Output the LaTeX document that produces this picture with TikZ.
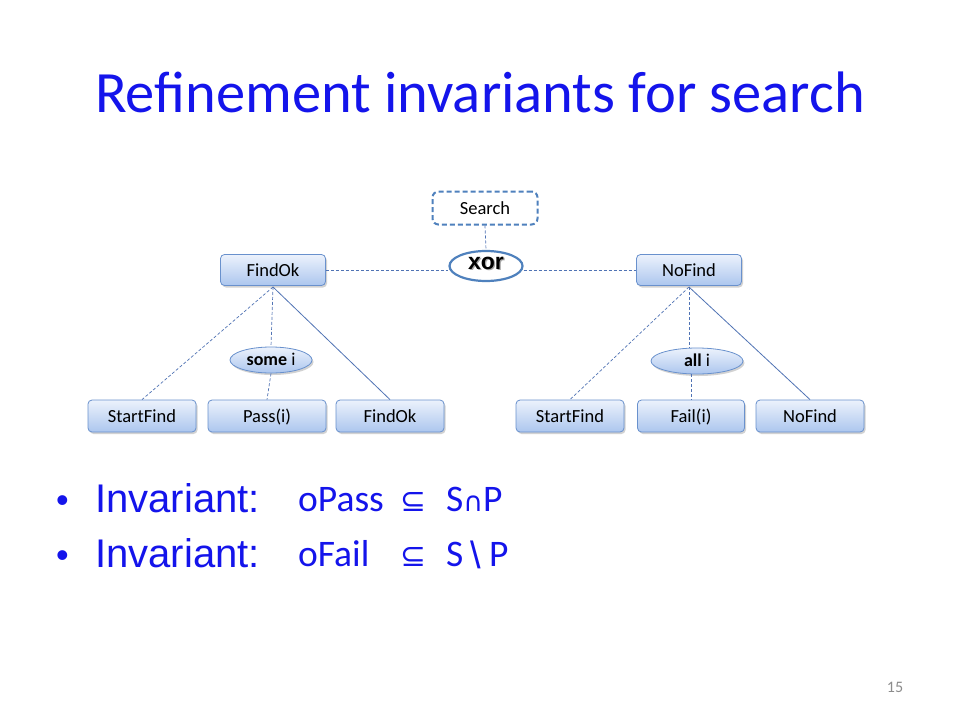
\documentclass[tikz,border=0pt]{standalone}
\usepackage{fontspec}
\setmainfont{Carlito}
\newfontfamily\arialf{Liberation Sans}
\newfontfamily\dejavu{DejaVu Sans}
\usetikzlibrary{shapes.geometric,shadows}
\definecolor{titleblue}{RGB}{20,20,235}
\definecolor{boxborder}{RGB}{105,145,205}
\definecolor{boxtop}{RGB}{236,242,252}
\definecolor{boxbot}{RGB}{172,198,238}
\definecolor{linec}{RGB}{80,115,180}
\definecolor{xorc}{RGB}{79,129,189}
\definecolor{pagegray}{RGB}{140,140,140}
\tikzset{
  box/.style={draw=boxborder, line width=0.8pt, rounded corners=4pt, minimum width=108pt, minimum height=32pt,
    top color=boxtop, bottom color=boxbot, font=\fontsize{18.5}{20}\selectfont, inner sep=0pt,
    text height=14pt, text depth=2pt,
    drop shadow={shadow xshift=1.5pt, shadow yshift=-2pt, opacity=0.35}},
  oval/.style={ellipse, draw=boxborder, line width=0.8pt, minimum width=82pt, minimum height=26pt,
    top color=boxtop, bottom color=boxbot, inner sep=0pt, font=\fontsize{18}{20}\selectfont,
    text height=13.5pt, text depth=2pt,
    drop shadow={shadow xshift=1.5pt, shadow yshift=-2pt, opacity=0.35}},
  dline/.style={draw=linec, line width=0.7pt, dash pattern=on 3pt off 2pt},
  sline/.style={draw=linec, line width=0.8pt},
  bl/.style={anchor=base west, text=titleblue, inner sep=0pt},
}
\begin{document}
\begin{tikzpicture}[x=1pt,y=-1pt]
\useasboundingbox (0,0) rectangle (960,720);
\fill[white] (0,0) rectangle (960,720);
% title
\node[font=\fontsize{58.5}{64}\selectfont, text=titleblue] (title) at (480,92) {Refinement invariants for search};
% top
\node[draw=xorc, line width=2pt, dash pattern=on 5pt off 3pt, rounded corners=6pt, fill=white,
  minimum width=105pt, minimum height=33pt, font=\fontsize{18.5}{20}\selectfont, inner sep=0pt,
  text height=14pt, text depth=2pt] (search) at (485,208) {Search};
\node[box, minimum width=105pt, minimum height=31pt] (findok) at (273,270) {FindOk};
\node[box, minimum width=105pt, minimum height=31pt] (nofind) at (689,270) {NoFind};
\node[ellipse, draw=xorc, line width=2.2pt, fill=white, minimum width=73pt, minimum height=30pt, inner sep=0pt] (xor) at (486,266) {};
\node[font=\arialf\fontsize{23}{25}\selectfont\bfseries, text=black!35, inner sep=0pt] (xorsh) at (487.2,264.2) {xor};
\node[font=\arialf\fontsize{23}{25}\selectfont\bfseries, inner sep=0pt] (xort) at (486,263) {xor};
\draw[dline] (search.south) -- (xor.north);
\draw[dline] (findok.east) -- (findok.east -| xor.west);
\draw[dline] (nofind.west -| xor.east) -- (nofind.west);
% bottom left
\node[box] (sf1) at (142,416) {StartFind};
\node[box, minimum width=118pt] (pass) at (267,416) {Pass(i)};
\node[box] (fo2) at (390,416) {FindOk};
\node[oval] (some) at (271,360) {\textbf{some} i};
\coordinate (fkb) at (273,287);
\draw[dline] (fkb) -- (sf1.north);
\draw[dline] (fkb) -- (some.north);
\draw[dline] (some.south) -- (pass.north);
\draw[sline] (fkb) -- (fo2.north);
% bottom right
\node[box] (sf2) at (570,416) {StartFind};
\node[box, minimum width=107pt] (fail) at (691,416) {Fail(i)};
\node[box] (nf2) at (810,416) {NoFind};
\node[oval, minimum width=92pt] (all) at (697,361) {\textbf{all} i};
\coordinate (nfb) at (689,287);
\draw[dline] (nfb) -- (sf2.north);
\draw[dline] (nfb) -- (nfb |- all.north);
\draw[dline] (all.south -| fail.north) -- (fail.north);
\draw[sline] (nfb) -- (nf2.north);
% bullets
\node[bl, font=\arialf\fontsize{36}{40}\selectfont] (d1) at (56,512) {•};
\node[bl, font=\arialf\fontsize{40}{44}\selectfont] (b1) at (95,512) {Invariant:};
\node[bl, font=\fontsize{37.5}{40}\selectfont] (f1) at (298,511) {oPass};
\node[bl, font=\dejavu\fontsize{31}{34}\selectfont] (s1) at (400,511) {⊆};
\node[bl, font=\fontsize{37.5}{40}\selectfont] (p1) at (446,511) {S{\dejavu\fontsize{27}{30}\selectfont ∩}P};
\node[bl, font=\arialf\fontsize{36}{40}\selectfont] (d2) at (56,567) {•};
\node[bl, font=\arialf\fontsize{40}{44}\selectfont] (b2) at (95,567) {Invariant:};
\node[bl, font=\fontsize{37.5}{40}\selectfont] (f2) at (298,566) {oFail};
\node[bl, font=\dejavu\fontsize{31}{34}\selectfont] (s2) at (400,566) {⊆};
\node[bl, font=\fontsize{37.5}{40}\selectfont] (p2a) at (446,566) {S};
\node[bl, font=\arialf\fontsize{38}{42}\selectfont] (bs) at (470,568) {\textbackslash};
\node[bl, font=\fontsize{37.5}{40}\selectfont] (p2b) at (489,566) {P};
\node[font=\fontsize{16}{18}\selectfont, text=pagegray] (pg) at (895,687) {15};
\end{tikzpicture}
\end{document}
